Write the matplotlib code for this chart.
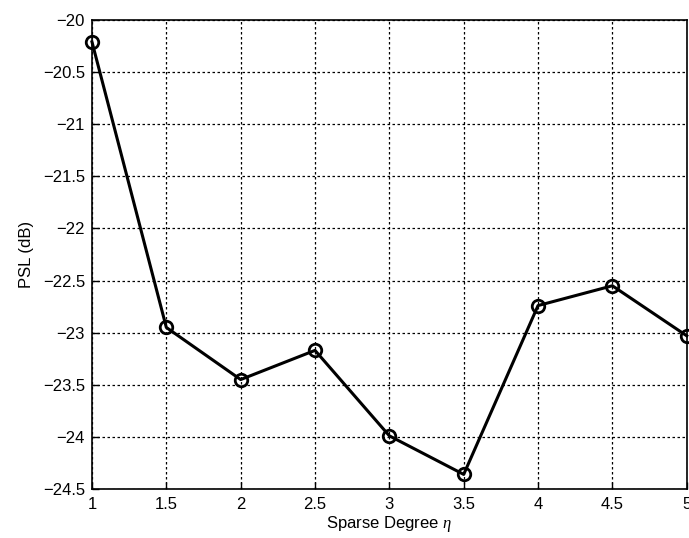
import matplotlib.pyplot as plt

plt.rcParams['font.family'] = ['Liberation Sans', 'DejaVu Sans']
plt.rcParams['mathtext.fontset'] = 'custom'
plt.rcParams['mathtext.it'] = 'Liberation Serif:italic'

eta = [1, 1.5, 2, 2.5, 3, 3.5, 4, 4.5, 5]
psl = [-20.21, -22.95, -23.45, -23.17, -23.99, -24.36, -22.74, -22.55, -23.03]

fig = plt.figure(figsize=(6.89, 5.38), dpi=100)
ax = fig.add_axes([0.1335, 0.0911, 0.8632, 0.8717])

ax.plot(eta, psl, color='black', linewidth=2.2, marker='o', markersize=9,
        markerfacecolor='none', markeredgewidth=2, clip_on=False, zorder=3)

ax.set_xlim(1, 5)
ax.set_ylim(-24.5, -20)
ax.set_xticks([1, 1.5, 2, 2.5, 3, 3.5, 4, 4.5, 5])
ax.set_xticklabels(['1', '1.5', '2', '2.5', '3', '3.5', '4', '4.5', '5'])
ax.set_yticks([-24.5, -24, -23.5, -23, -22.5, -22, -21.5, -21, -20.5, -20])
ax.set_yticklabels(['\u221224.5', '\u221224', '\u221223.5', '\u221223', '\u221222.5',
                    '\u221222', '\u221221.5', '\u221221', '\u221220.5', '\u221220'])

ax.grid(True, color='black', linestyle=(0, (2, 2)), linewidth=0.9)
ax.tick_params(direction='in', labelsize=12, length=5, width=1)
ax.tick_params(axis='x', pad=6)
ax.tick_params(axis='y', pad=5)
for s in ax.spines.values():
    s.set_linewidth(1.2)

ax.set_xlabel(r'Sparse Degree $\eta$', fontsize=12, labelpad=1)
ax.set_ylabel('PSL (dB)', fontsize=12, labelpad=6)

fig.savefig('out.png', dpi=100)
